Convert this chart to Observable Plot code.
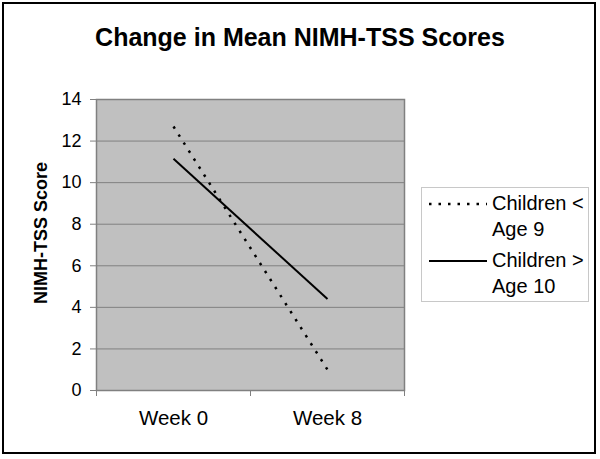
<!DOCTYPE html>
<html>
<head>
<meta charset="utf-8">
<script src="https://cdn.jsdelivr.net/npm/d3@7"></script>
<script src="https://cdn.jsdelivr.net/npm/@observablehq/plot@0.6"></script>
<style>
  html, body { margin: 0; padding: 0; background: #fff; }
  body { font-family: "Liberation Sans", Arial, sans-serif; }
  #wrap { position: relative; width: 600px; height: 459px; overflow: hidden; }
  #border { position: absolute; left: 2px; top: 2px; width: 590px; height: 448px; border: 2px solid #000; box-sizing: content-box; }
  #title { position: absolute; left: 0; top: 22px; width: 600px; text-align: center; font-weight: bold; font-size: 25px; line-height: 30px; color: #000; }
  #chart { position: absolute; left: 0; top: 70px; }
  #legend { position: absolute; left: 421px; top: 187px; width: 166px; height: 113px; border: 1px solid #c8c8c8; background: #fff; }
  .item { position: absolute; left: 0; width: 166px; }
  .item svg { position: absolute; left: 6px; }
  .item .lab { position: absolute; left: 70px; width: 96px; font-size: 20px; line-height: 25.5px; color: #000; }
  #chart g[aria-label="y-axis label"] text { font-weight: bold; font-size: 18px; }
</style>
</head>
<body>
<div id="wrap">
  <div id="border"></div>
  <div id="title"></div>
  <div id="chart"></div>
  <div id="legend"></div>
</div>
<script>
const chartTitle = "Change in Mean NIMH-TSS Scores";
const yLabel = "NIMH-TSS Score";
const weeks = ["Week 0", "Week 8"];
const seriesNames = ["Children < Age 9", "Children > Age 10"];
const under9 = [12.7, 1.0];
const over10 = [11.15, 4.4];
const yTicks = [0, 2, 4, 6, 8, 10, 12, 14];
const seriesDash = ["2.5,7", null];

document.getElementById("title").textContent = chartTitle;

const rows = [];
[under9, over10].forEach((vals, s) => {
  vals.forEach((v, i) => rows.push({series: seriesNames[s], pos: i + 0.5, value: v}));
});

const lineFor = (name, dash) => Plot.line(rows.filter(d => d.series === name), {
  x: "pos", y: "value", stroke: "#000", strokeWidth: dash ? 2.5 : 2,
  strokeDasharray: dash || undefined, strokeLinecap: "butt"
});

const chart = Plot.plot({
  width: 600,
  height: 380,
  marginLeft: 96,
  marginRight: 196,
  marginTop: 29,
  marginBottom: 60,
  style: {fontFamily: "'Liberation Sans', Arial, sans-serif", background: "transparent", color: "#000"},
  x: {type: "linear", domain: [0, weeks.length]},
  y: {domain: [0, 14]},
  marks: [
    Plot.frame({fill: "#c0c0c0", stroke: null}),
    Plot.gridY(yTicks.filter(d => d > 0 && d < 14), {stroke: "#808080", strokeOpacity: 1, strokeWidth: 1}),
    Plot.frame({stroke: "#808080", strokeWidth: 1.5}),
    lineFor(seriesNames[1], seriesDash[1]),
    lineFor(seriesNames[0], seriesDash[0]),
    Plot.axisY(yTicks, {tickSize: 6, tickPadding: 9, fontSize: 18, stroke: "#808080",
      label: yLabel, labelAnchor: "center", labelOffset: 62, labelArrow: false}),
    Plot.axisX(d3.range(weeks.length + 1), {tickSize: 6, tickFormat: () => "", stroke: "#808080", label: null}),
    Plot.axisX(weeks.map((w, i) => i + 0.5), {tickSize: 0, tickPadding: 20, fontSize: 20.5,
      tickFormat: d => weeks[Math.round(d - 0.5)], label: null})
  ]
});
// nudge the y-axis title upward a little, as in the reference
const yl = chart.querySelector('g[aria-label="y-axis label"]');
if (yl) {
  const t = yl.getAttribute("transform") || "";
  yl.setAttribute("transform", (t + " translate(0,-12)").trim());
}
document.getElementById("chart").appendChild(chart);

// legend
const legend = document.getElementById("legend");
const rowTops = [3, 60];
seriesNames.forEach((name, s) => {
  const item = document.createElement("div");
  item.className = "item";
  item.style.top = rowTops[s] + "px";
  const dash = seriesDash[s];
  item.innerHTML = `<svg width="60" height="26" style="top:0"><line x1="1" x2="59" y1="13" y2="13" stroke="#000" stroke-width="${dash ? 2.5 : 2}" ${dash ? `stroke-dasharray="${dash}"` : ""}/></svg>`;
  const lab = document.createElement("div");
  lab.className = "lab";
  lab.style.top = "0px";
  lab.textContent = name;
  item.appendChild(lab);
  legend.appendChild(item);
});
</script>
</body>
</html>
